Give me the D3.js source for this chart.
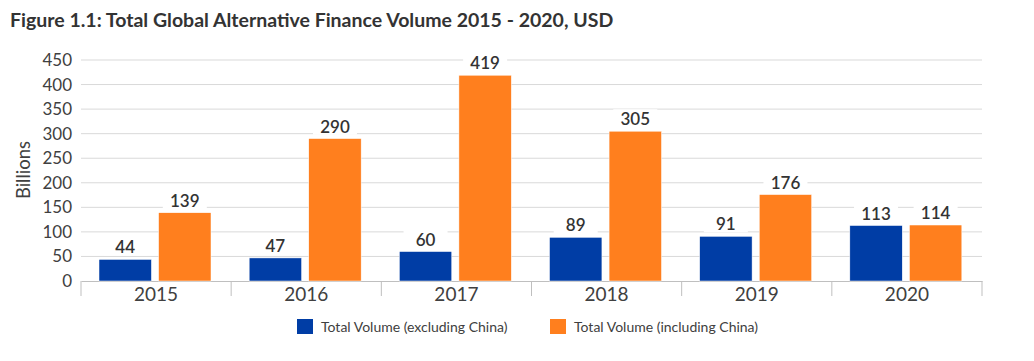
<!DOCTYPE html>
<html>
<head>
<meta charset="utf-8">
<script src="https://cdn.jsdelivr.net/npm/d3@7"></script>
<style>
  body { margin: 0; background: #fff; }
  text { font-family: Lato, "Open Sans", sans-serif; }
</style>
</head>
<body>
<div id="chart"></div>
<script>
// chart data
var years = ["2015", "2016", "2017", "2018", "2019", "2020"];
var exclChina = [44, 47, 60, 89, 91, 113];
var inclChina = [139, 290, 419, 305, 176, 114];
var seriesNames = ["Total Volume (excluding China)", "Total Volume (including China)"];
var yTicks = [0, 50, 100, 150, 200, 250, 300, 350, 400, 450];

var colors = ["#003DA5", "#FF7F1E"];

var W = 1034, H = 361;
var margin = {top: 60, right: 52, bottom: 80, left: 81},
    width = W - margin.left - margin.right,
    height = H - margin.top - margin.bottom;

var svg = d3.select("#chart")
  .append("svg")
    .attr("width", W)
    .attr("height", H);

// title
svg.append("text")
    .attr("x", 10)
    .attr("y", 27)
    .attr("font-size", 19.5)
    .attr("font-weight", "bold")
    .attr("fill", "#333")
    .text("Figure 1.1: Total Global Alternative Finance Volume 2015 - 2020, USD");

var g = svg.append("g")
    .attr("transform", "translate(" + margin.left + "," + margin.top + ")");

var x = d3.scaleBand()
  .domain(years)
  .range([0, width]);

var y = d3.scaleLinear()
  .domain([0, 450])
  .range([height, 0]);

// gridlines
g.append("g")
  .selectAll("line")
  .data(yTicks.slice(1))
  .enter()
  .append("line")
    .attr("x1", 0)
    .attr("x2", width)
    .attr("y1", function(d) { return y(d); })
    .attr("y2", function(d) { return y(d); })
    .attr("stroke", "#d9d9d9")
    .attr("stroke-width", 1);

// y axis labels
var yAxis = g.append("g")
    .call(d3.axisLeft(y).tickValues(yTicks).tickSize(0).tickPadding(9));
yAxis.select(".domain").remove();
yAxis.selectAll("text")
    .attr("font-family", "Lato, sans-serif")
    .attr("font-size", 17)
    .attr("fill", "#404040");

svg.append("text")
    .attr("transform", "translate(30,170) rotate(-90)")
    .attr("text-anchor", "middle")
    .attr("font-size", 18.5)
    .attr("fill", "#404040")
    .text("Billions");

// x axis
var xAxis = g.append("g")
    .attr("transform", "translate(0," + height + ")")
    .call(d3.axisBottom(x).tickSize(0).tickPadding(7));
xAxis.select(".domain").attr("stroke", "#bfbfbf");
xAxis.selectAll("text")
    .attr("font-family", "Lato, sans-serif")
    .attr("font-size", 19)
    .attr("fill", "#404040");

// category separators
g.append("g")
  .selectAll("line")
  .data(d3.range(years.length + 1))
  .enter()
  .append("line")
    .attr("x1", function(i) { return i * x.bandwidth(); })
    .attr("x2", function(i) { return i * x.bandwidth(); })
    .attr("y1", height)
    .attr("y2", height + 15)
    .attr("stroke", "#bfbfbf");

var x1 = d3.scaleBand()
  .domain([0, 1])
  .range([18, 130])
  .paddingInner(0.12);

var series = [exclChina, inclChina];

series.forEach(function(vals, si) {
  var grp = g.append("g");
  grp.selectAll("rect")
    .data(vals)
    .enter()
    .append("rect")
      .attr("x", function(d, i) { return x(years[i]) + x1(si); })
      .attr("y", function(d) { return y(d); })
      .attr("width", x1.bandwidth())
      .attr("height", function(d) { return height - y(d); })
      .attr("fill", colors[si])
      .attr("stroke", "#fff")
      .attr("stroke-width", 0.5);

  // white box behind value labels
  grp.selectAll("rect.bg")
    .data(vals)
    .enter()
    .append("rect")
      .attr("class", "bg")
      .attr("x", function(d, i) { return x(years[i]) + x1(si) + x1.bandwidth() / 2 - 22; })
      .attr("y", function(d) { return y(d) - 22; })
      .attr("width", 44)
      .attr("height", 18)
      .attr("fill", "#fff");

  grp.selectAll("text")
    .data(vals)
    .enter()
    .append("text")
      .attr("x", function(d, i) { return x(years[i]) + x1(si) + x1.bandwidth() / 2; })
      .attr("y", function(d) { return y(d) - 6; })
      .attr("text-anchor", "middle")
      .attr("font-size", 17)
      .attr("font-weight", 600)
      .attr("fill", "#333")
      .text(function(d) { return d; });
});

// legend
var legendX = [297, 550];
var legend = svg.append("g");
seriesNames.forEach(function(name, i) {
  legend.append("rect")
    .attr("x", legendX[i])
    .attr("y", 319)
    .attr("width", 16)
    .attr("height", 15)
    .attr("fill", colors[i]);
  legend.append("text")
    .attr("x", legendX[i] + 24)
    .attr("y", 332)
    .attr("font-size", 14)
    .attr("fill", "#404040")
    .text(name);
});
</script>
</body>
</html>
